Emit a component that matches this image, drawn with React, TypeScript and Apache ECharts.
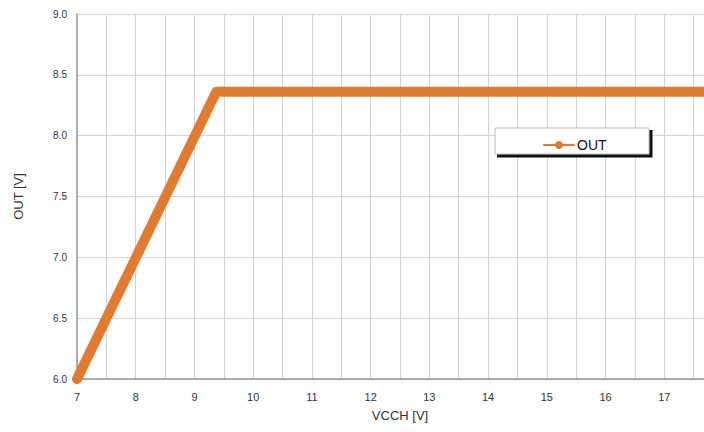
import React, { useEffect, useRef } from "react";
import * as echarts from "echarts";

const vcch: number[] = [7, 9.37, 18];
const out: number[] = [6.0, 8.36, 8.36];
const seriesName = "OUT";
const xTicks: number[] = [7, 8, 9, 10, 11, 12, 13, 14, 15, 16, 17];

export default function App() {
  const ref = useRef<HTMLDivElement>(null);
  useEffect(() => {
    if (!ref.current) return;
    const chart = echarts.init(ref.current, null, { renderer: "svg" });
    const font = "Liberation Sans, Arial, sans-serif";
    chart.setOption({
      animation: false,
      backgroundColor: "#ffffff",
      grid: { left: 77, right: 0, top: 14, bottom: 53, containLabel: false },
      xAxis: {
        type: "value",
        min: 7,
        max: 18,
        interval: 1,
        name: "VCCH [V]",
        nameLocation: "middle",
        nameGap: 30,
        nameTextStyle: { fontFamily: font, fontSize: 13, color: "#333" },
        axisLine: { lineStyle: { color: "#999", width: 1.5 } },
        axisTick: { show: false },
        axisLabel: {
          fontFamily: font,
          fontSize: 11,
          color: "#333",
          margin: 12,
          formatter: (v: number) => (xTicks.includes(v) ? String(v) : ""),
        },
        splitLine: { show: true, lineStyle: { color: "#d4d4d4", width: 1 } },
        minorTick: { show: false, splitNumber: 2 },
        minorSplitLine: { show: true, lineStyle: { color: "#d4d4d4", width: 1 } },
      },
      yAxis: {
        type: "value",
        min: 6,
        max: 9,
        interval: 0.5,
        name: "OUT [V]",
        nameLocation: "middle",
        nameGap: 52,
        nameRotate: 90,
        nameTextStyle: { fontFamily: font, fontSize: 13, color: "#333" },
        axisLine: { show: true, lineStyle: { color: "#999", width: 1.5 } },
        axisTick: { show: false },
        axisLabel: {
          fontFamily: font,
          fontSize: 10,
          color: "#333",
          margin: 10,
          formatter: (v: number) => v.toFixed(1),
        },
        splitLine: { show: true, lineStyle: { color: "#d4d4d4", width: 1 } },
      },
      graphic: [
        {
          type: "rect",
          shape: { x: 495, y: 128, width: 154, height: 26 },
          style: { fill: "#fff", stroke: "#bbb", lineWidth: 1 },
          z: 10,
        },
        {
          type: "polyline",
          shape: { points: [[497, 156], [651, 156], [651, 130]] },
          style: { stroke: "#111", lineWidth: 3, fill: null },
          z: 11,
        },
      ],
      legend: {
        show: true,
        data: [seriesName],
        left: 538,
        top: 133,
        itemWidth: 30,
        itemHeight: 10,
        itemGap: 4,
        z: 20,
        textStyle: { fontFamily: font, fontSize: 14, color: "#111", padding: [0, 0, 0, -2] },
      },
      series: [
        {
          name: seriesName,
          type: "line",
          data: vcch.map((x, i) => [x, out[i]]),
          symbol: "circle",
          symbolSize: 9,
          showSymbol: false,
          lineStyle: { color: "#E17B30", width: 10, cap: "round", join: "round" },
          itemStyle: { color: "#E17B30" },
          clip: false,
        },
      ],
    });
    return () => chart.dispose();
  }, []);
  return (
    <div style={{ width: 704, height: 432, position: "absolute", left: 0, top: 0, overflow: "hidden" }}>
      <div ref={ref} style={{ width: 726, height: 432 }} />
    </div>
  );
}
